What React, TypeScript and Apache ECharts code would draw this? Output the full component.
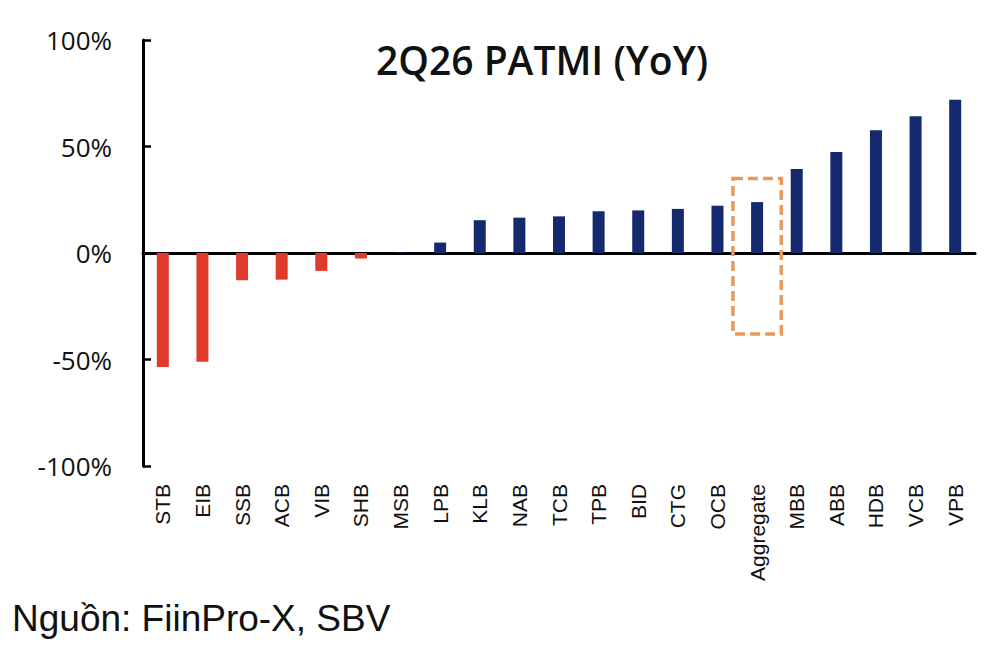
import React, { useEffect, useRef } from "react";
import * as echarts from "echarts";

const banks = [
  "STB", "EIB", "SSB", "ACB", "VIB", "SHB", "MSB", "LPB", "KLB", "NAB", "TCB",
  "TPB", "BID", "CTG", "OCB", "Aggregate", "MBB", "ABB", "HDB", "VCB", "VPB",
];
const patmiYoY = [
  -53.5, -51, -12.8, -12.5, -8.4, -2.6, 0.3, 4.9, 15.4, 16.6, 17.2,
  19.6, 20, 20.7, 22.2, 23.9, 39.4, 47.4, 57.6, 64.2, 72,
];
const yTicks = { min: -100, max: 100, interval: 50 };
const highlightBox = ["Aggregate", 35, -38];

const RED = "#E03A2C";
const NAVY = "#15296E";
const ORANGE = "#E8995A";

export default function App() {
  const ref = useRef<HTMLDivElement>(null);
  useEffect(() => {
    if (!ref.current) return;
    const chart = echarts.init(ref.current, null, { renderer: "svg" });
    const boxIdx = banks.indexOf(highlightBox[0] as string);
    chart.setOption({
      animation: false,
      backgroundColor: "#ffffff",
      grid: { left: 143, right: 25, top: 40, bottom: 197, containLabel: false },
      xAxis: [
        {
          type: "category",
          data: banks,
          axisLine: { onZero: true, lineStyle: { color: "#000", width: 3 } },
          axisTick: { inside: true, length: 6, lineStyle: { color: "#000", width: 2.5 } },
          axisLabel: { show: false },
          splitLine: { show: false },
        },
        {
          type: "category",
          data: banks,
          position: "bottom",
          axisLine: { show: false, onZero: false },
          axisTick: { show: false },
          axisLabel: {
            rotate: 90,
            margin: 18,
            fontFamily: "Liberation Sans",
            fontSize: 21,
            color: "#111",
            interval: 0,
          },
        },
      ],
      yAxis: {
        type: "value",
        min: yTicks.min,
        max: yTicks.max,
        interval: yTicks.interval,
        axisLine: { show: true, lineStyle: { color: "#000", width: 3 } },
        axisTick: { show: true, inside: true, length: 8, lineStyle: { color: "#000", width: 2.5 } },
        splitLine: { show: false },
        axisLabel: {
          formatter: "{value}%",
          margin: 31,
          fontFamily: "Open Sans",
          fontSize: 26,
          color: "#111",
        },
      },
      series: [
        {
          type: "bar",
          xAxisIndex: 0,
          data: patmiYoY,
          barWidth: 12,
          itemStyle: {
            color: (p: any) => (p.value < 0 ? RED : NAVY),
          },
        },
        {
          type: "custom",
          xAxisIndex: 0,
          data: [[boxIdx, highlightBox[1], highlightBox[2]]],
          encode: { x: 0, y: [1, 2] },
          z: 5,
          renderItem: (params: any, api: any) => {
            const top = api.coord([api.value(0), api.value(1)]);
            const bottom = api.coord([api.value(0), api.value(2)]);
            const w = api.size([1, 0])[0] * 1.22;
            return {
              type: "rect",
              shape: { x: top[0] - w / 2, y: top[1], width: w, height: bottom[1] - top[1] },
              style: { fill: "none", stroke: ORANGE, lineWidth: 3.5, lineDash: [10, 5] },
            };
          },
        },
      ],
      graphic: [
        {
          type: "text",
          x: 542,
          y: 59,
          style: {
            text: "2Q26 PATMI (YoY)",
            fontFamily: "Open Sans",
            fontWeight: 600,
            fontSize: 39,
            fill: "#111",
            textAlign: "center",
            textVerticalAlign: "middle",
          },
        },
        {
          type: "text",
          x: 12,
          y: 618,
          style: {
            text: "Nguồn: FiinPro-X, SBV",
            fontFamily: "Liberation Sans",
            fontSize: 37,
            fill: "#111",
            textAlign: "left",
            textVerticalAlign: "middle",
          },
        },
      ],
    });
    return () => chart.dispose();
  }, []);
  return (
    <div
      ref={ref}
      style={{ position: "absolute", left: 0, top: 0, width: 1000, height: 663 }}
    />
  );
}
